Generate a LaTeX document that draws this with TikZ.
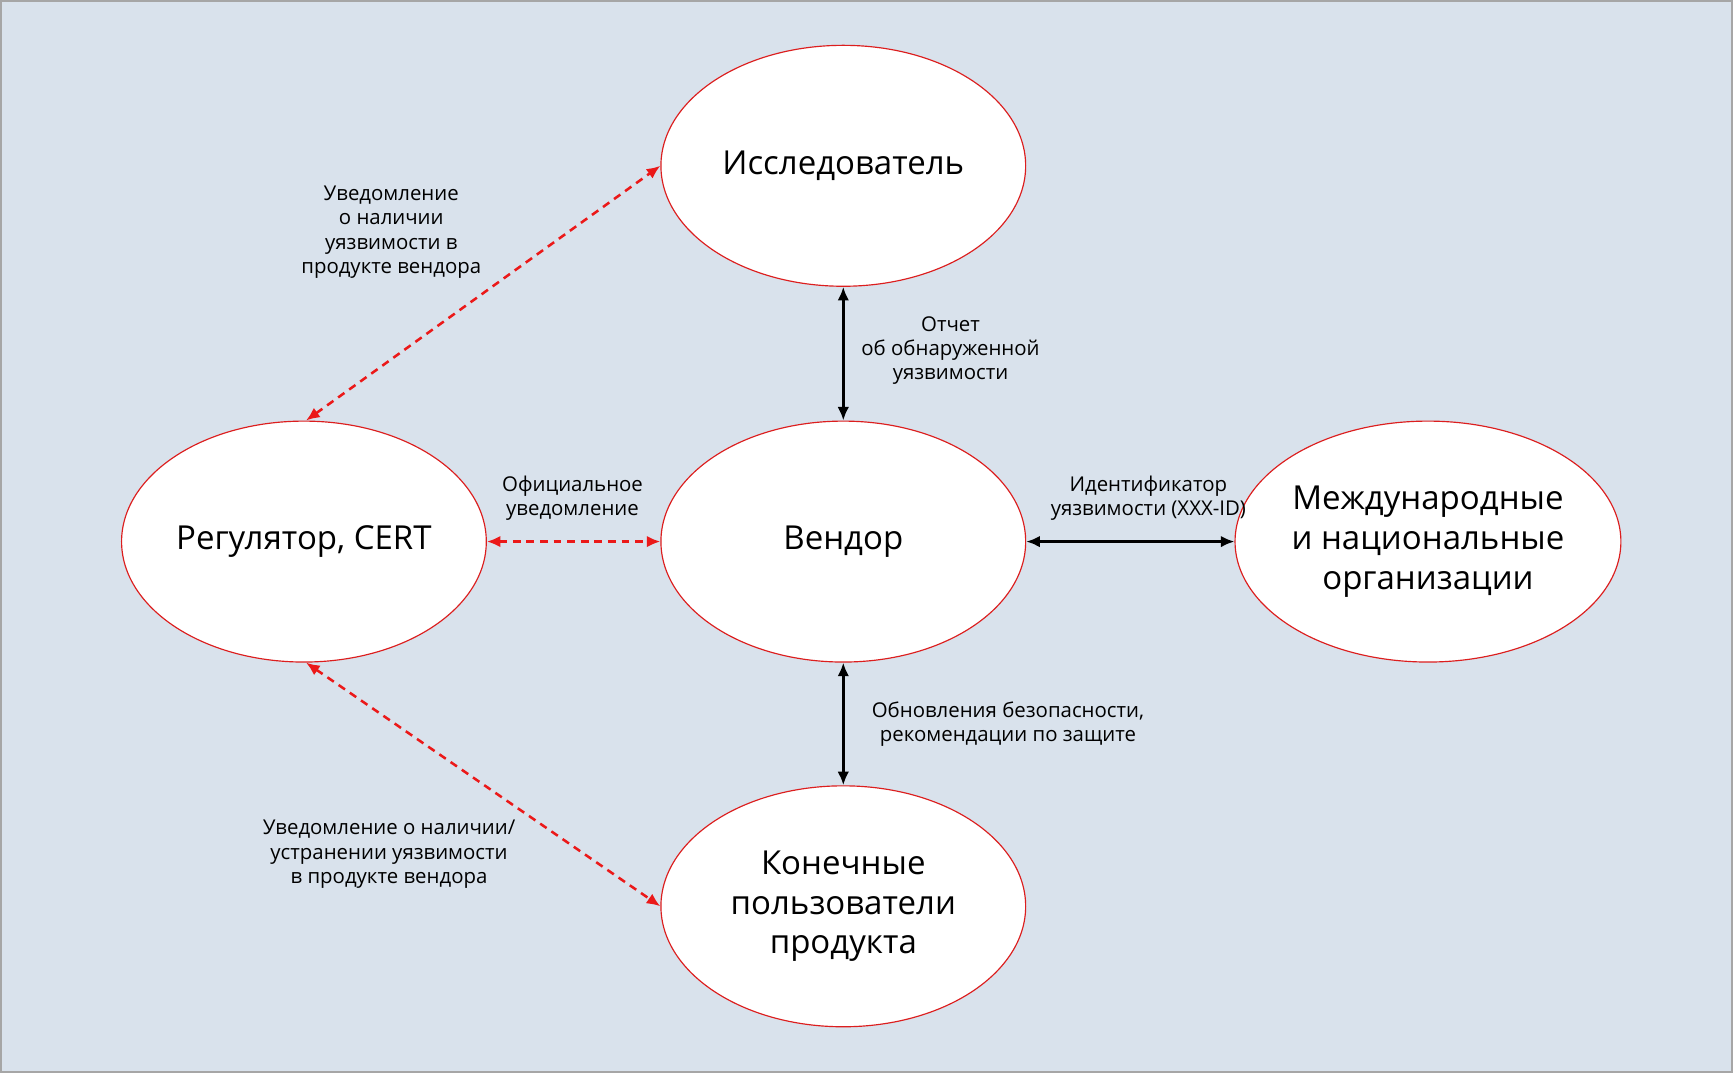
\documentclass[tikz,border=0pt]{standalone}
\usepackage{fontspec}
\setmainfont{Open Sans}
\definecolor{bgblue}{RGB}{217,226,236}
\definecolor{edgered}{RGB}{220,30,30}
\definecolor{arrred}{RGB}{235,25,25}
\usetikzlibrary{shapes.geometric,arrows.meta}
\tikzset{
  actor/.style={ellipse, fill=white, draw=edgered, line width=0.6pt, inner sep=0pt,
    minimum width=330\pxu, minimum height=218\pxu, align=center,
    font=\fontsize{17}{20.5}\selectfont},
  note/.style={align=center, font=\fontsize{10.5}{12.5}\selectfont},
  link/.style={{Latex[length=7pt,width=6pt]}-{Latex[length=7pt,width=6pt]}, line width=1.4pt},
  redlink/.style={link, draw=arrred, dashed, dash pattern=on 4pt off 3pt, line width=1.3pt,
    {Latex[length=7pt,width=6pt,fill=arrred]}-{Latex[length=7pt,width=6pt,fill=arrred]}}
}
\newlength{\pxu}\setlength{\pxu}{0.02cm}
\begin{document}
\begin{tikzpicture}[x=0.02cm,y=-0.02cm]
  \fill[bgblue] (0,0) rectangle (1568,971);
  \draw[gray!70, line width=0.8pt] (1,1) rectangle (1567,970);

  \node[actor] (res)  at (763,150) {Исследователь};
  \node[actor] (vend) at (763,490) {Вендор};
  \node[actor] (reg)  at (275,490) {Регулятор, CERT};
  \node[actor] (org)  at (1292,490) {Международные\\и национальные\\организации};
  \node[actor] (user) at (763,820) {Конечные\\пользователи\\продукта};

  \draw[link] (res) -- (vend);
  \draw[link] (vend) -- (user);
  \draw[link] (vend) -- (org);
  \draw[redlink] (reg.89) -- (res.west);
  \draw[redlink] (reg) -- (vend);
  \draw[redlink] (reg.-89) -- (user.west);

  \node[note] (n1) at (354,210) {Уведомление\\о наличии\\уязвимости в\\продукте вендора};
  \node[note] (n2) at (860,317) {Отчет\\об обнаруженной\\уязвимости};
  \node[note] (n3) at (518,451) {Официальное\\уведомление};
  \node[note] (n4) at (1039,451) {Идентификатор\\уязвимости (XXX-ID)};
  \node[note] (n5) at (912,655) {Обновления безопасности,\\рекомендации по защите};
  \node[note] (n6) at (352,773) {Уведомление о наличии/\\устранении уязвимости\\в продукте вендора};
\end{tikzpicture}
\end{document}
